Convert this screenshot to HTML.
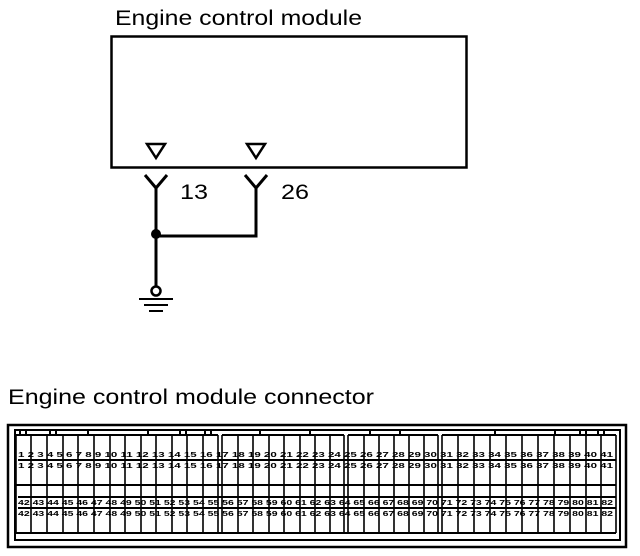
<!DOCTYPE html>
<html><head><style>body{margin:0;background:#fff}svg{display:block}</style></head><body>
<svg width="640" height="556" viewBox="0 0 640 556" xmlns="http://www.w3.org/2000/svg" font-family="Liberation Sans, sans-serif">
<text x="115" y="25" font-size="21" textLength="247" lengthAdjust="spacingAndGlyphs">Engine control module</text>
<rect x="111.5" y="36.5" width="355" height="131" fill="none" stroke="#000" stroke-width="2.5"/>
<polygon points="147,144 165,144 156,158" fill="none" stroke="#000" stroke-width="2.5"/>
<polygon points="247,144 265,144 256,158" fill="none" stroke="#000" stroke-width="2.5"/>
<g stroke="#000" stroke-width="3" fill="none">
<polyline points="145,175 156,188 167,175"/>
<polyline points="245,175 256,188 267,175"/>
<line x1="156" y1="188" x2="156" y2="287"/>
<polyline points="156,236 256,236 256,188"/>
<circle cx="156" cy="291" r="4.5" stroke-width="2.5"/>
<line x1="139" y1="299" x2="173" y2="299" stroke-width="2"/>
<line x1="144" y1="305" x2="168" y2="305" stroke-width="2"/>
<line x1="149" y1="311" x2="163" y2="311" stroke-width="2"/>
</g>
<circle cx="156" cy="234" r="5" fill="#000"/>
<text x="180" y="199" font-size="21" textLength="28" lengthAdjust="spacingAndGlyphs">13</text>
<text x="281" y="199" font-size="21" textLength="28" lengthAdjust="spacingAndGlyphs">26</text>
<text x="8" y="404" font-size="21" textLength="366" lengthAdjust="spacingAndGlyphs">Engine control module connector</text>
<rect x="8" y="425" width="618" height="122" fill="none" stroke="#000" stroke-width="2.5"/>
<rect x="15" y="430" width="605" height="110" fill="none" stroke="#000" stroke-width="2"/>
<g stroke="#000" stroke-width="2" fill="none">
<path d="M16 435 H218 M222 435 H344 M348 435 H438 M442 435 H616"/>
<path d="M16 533 H616 M16 485 H616"/>
</g>
<g stroke="#000" stroke-width="1.6">
<path d="M16 435V533M31 435V533M47 435V533M63 435V533M78 435V533M94 435V533M110 435V533M125 435V533M141 435V533M156 435V533M172 435V533M187 435V533M203 435V533M218 435V533"/>
<path d="M222 435V533M238 435V533M253 435V533M269 435V533M284 435V533M300 435V533M315 435V533M330 435V533M344 435V533"/>
<path d="M348 435V533M364 435V533M379 435V533M394 435V533M409 435V533M424 435V533M438 435V533"/>
<path d="M442 435V533M458 435V533M474 435V533M490 435V533M506 435V533M522 435V533M538 435V533M554 435V533M570 435V533M586 435V533M601 435V533M616 435V533"/>
</g>
<g stroke="#000" stroke-width="2" fill="none">
<path d="M20 435v-5h6v5M50 435v-5h6v5M88 435v-5h60v5M180 435v-5h6v5M205 435v-5h6v5M260 435v-5h50v5M370 435v-5h30v5M495 435v-5h60v5M580 435v-5h6v5M598 435v-5h6v5"/>
</g>
<g stroke="#000" stroke-width="2">
<path d="M18 460H616M18 497H616M18 508H616"/>
</g>
<g font-size="7" fill="#000" font-weight="bold">
<text x="18" y="457" textLength="595" lengthAdjust="spacingAndGlyphs">1 2 3 4 5 6 7 8 9 10 11 12 13 14 15 16 17 18 19 20 21 22 23 24 25 26 27 28 29 30 31 32 33 34 35 36 37 38 39 40 41</text>
<text x="18" y="468" textLength="595" lengthAdjust="spacingAndGlyphs">1 2 3 4 5 6 7 8 9 10 11 12 13 14 15 16 17 18 19 20 21 22 23 24 25 26 27 28 29 30 31 32 33 34 35 36 37 38 39 40 41</text>
<text x="18" y="505" textLength="595" lengthAdjust="spacingAndGlyphs">42 43 44 45 46 47 48 49 50 51 52 53 54 55 56 57 58 59 60 61 62 63 64 65 66 67 68 69 70 71 72 73 74 75 76 77 78 79 80 81 82</text>
<text x="18" y="516" textLength="595" lengthAdjust="spacingAndGlyphs">42 43 44 45 46 47 48 49 50 51 52 53 54 55 56 57 58 59 60 61 62 63 64 65 66 67 68 69 70 71 72 73 74 75 76 77 78 79 80 81 82</text>
</g>
</svg>
</body></html>
